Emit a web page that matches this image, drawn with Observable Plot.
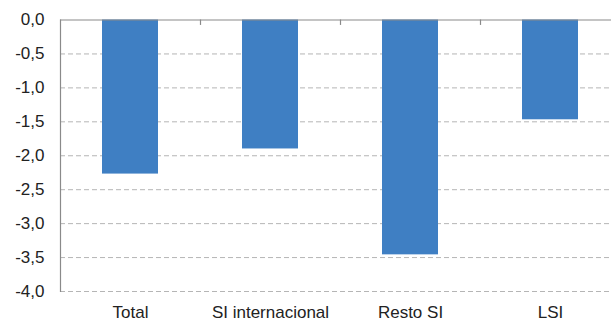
<!DOCTYPE html>
<html>
<head>
<meta charset="utf-8">
<script src="https://cdn.jsdelivr.net/npm/d3@7"></script>
<script src="https://cdn.jsdelivr.net/npm/@observablehq/plot@0.6"></script>
<style>
  html, body { margin: 0; padding: 0; background: #fff; overflow: hidden; }
  #chart svg { display: block; overflow: hidden; }
</style>
</head>
<body>
<div id="chart"></div>
<script>
// Variación por grupo de entidades (puntos porcentuales)
const categories = ["Total", "SI internacional", "Resto SI", "LSI"];
const values = [-2.27, -1.9, -3.46, -1.47];
const yTicks = [0, -0.5, -1, -1.5, -2, -2.5, -3, -3.5, -4];

const data = categories.map((c, i) => ({categoria: c, valor: values[i]}));

const W = 611, H = 321;
const left = 60;
const xRange = [left, 620];
const step = (xRange[1] - xRange[0]) / categories.length;

const fmt = d => d.toFixed(1).replace(".", ",");

const chart = Plot.plot({
  width: W,
  height: H,
  marginLeft: left,
  marginRight: 0,
  marginTop: 19.5,
  marginBottom: 30,
  style: {fontFamily: "Liberation Sans, Arial, sans-serif", fontSize: "17px", color: "#222", background: "#fff"},
  x: {domain: categories, range: xRange, paddingInner: 0.6, paddingOuter: 0.3},
  y: {domain: [-4, 0]},
  marks: [
    // dashed horizontal gridlines
    Plot.ruleY(yTicks.filter(d => d !== 0), {stroke: "#b5b5b5", strokeWidth: 1, strokeDasharray: "5,3"}),
    Plot.barY(data, {x: "categoria", y: "valor", fill: "#3f7fc3"}),
    // axis lines: top (zero) and left
    Plot.ruleY([0], {stroke: "#8a8a8a", strokeWidth: 1.2}),
    Plot.frame({anchor: "left", stroke: "#8a8a8a", strokeWidth: 1.2}),
    // category separator ticks hanging from the zero line
    Plot.ruleX(categories.slice(1), {x: d => d, dx: -step / 2, y1: 0, y2: -0.08, stroke: "#8a8a8a", strokeWidth: 1.2}),
    Plot.axisY({ticks: yTicks, tickFormat: fmt, tickSize: 0, tickPadding: 16, label: null}),
    Plot.axisX({tickSize: 0, tickPadding: 14, label: null})
  ]
});

document.getElementById("chart").appendChild(chart);
</script>
</body>
</html>
